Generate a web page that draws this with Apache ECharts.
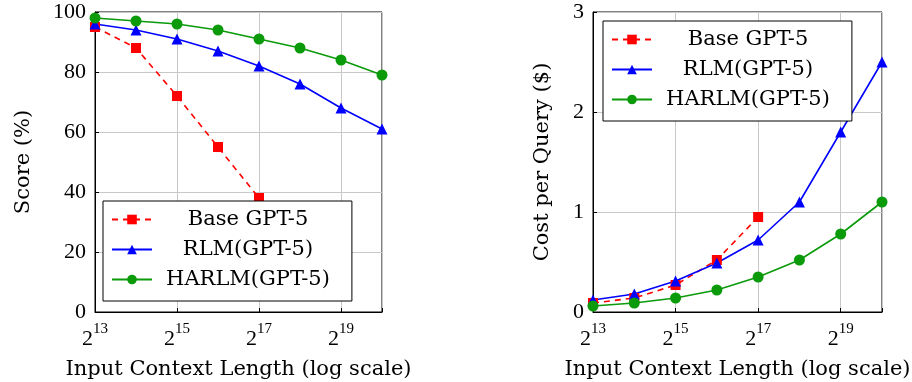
<!DOCTYPE html>
<html><head><meta charset="utf-8">
<script src="https://cdn.jsdelivr.net/npm/echarts@6/dist/echarts.min.js"></script>
<style>html,body{margin:0;padding:0;background:#fff}#c{width:912px;height:382px}</style>
</head><body><div id="c"></div>
<script>
// log2 of input context length
const exps = [13, 14, 15, 16, 17, 18, 19, 20];
const xTickExps = [13, 15, 17, 19];
const seriesNames = ['Base GPT-5', 'RLM(GPT-5)', 'HARLM(GPT-5)'];
// Score (%)
const scoreBase = [95, 88, 72, 55, 38];
const scoreRLM = [96, 94, 91, 87, 82, 76, 68, 61];
const scoreHARLM = [98, 97, 96, 94, 91, 88, 84, 79];
// Cost per query ($)
const costBase = [0.09, 0.14, 0.27, 0.52, 0.95];
const costRLM = [0.12, 0.18, 0.31, 0.49, 0.72, 1.1, 1.8, 2.5];
const costHARLM = [0.06, 0.09, 0.14, 0.22, 0.35, 0.52, 0.78, 1.1];

const FONT = 'DejaVu Serif';
const NUMFONT = 'Liberation Serif';
const RED = '#ff0000', BLUE = '#0000ff', GREEN = '#0a9a0a';
const pairs = arr => arr.map((v, i) => [exps[i], v]);

function xAxis(gi) {
  return {
    type: 'value', gridIndex: gi, min: 13, max: 20, interval: 2,
    name: 'Input Context Length (log scale)', nameLocation: 'middle', nameGap: 47,
    nameTextStyle: {fontFamily: FONT, fontSize: 21, color: '#000'},
    axisLine: {show: true, onZero: false, lineStyle: {color: '#000', width: 1}},
    axisTick: {show: true, inside: true, length: 4, lineStyle: {color: '#000'}},
    splitLine: {show: true, lineStyle: {color: '#c8c8c8', width: 1}},
    axisLabel: {
      margin: 10, color: '#000',
      formatter: v => xTickExps.includes(v) ? '{b|2}{s|' + v + '}' : '',
      rich: {
        b: {fontFamily: NUMFONT, fontSize: 22, color: '#000', verticalAlign: 'bottom'},
        s: {fontFamily: NUMFONT, fontSize: 15, color: '#000', padding: [0, 0, 13, 0], verticalAlign: 'bottom'}
      }
    }
  };
}
function yAxis(gi, max, interval, name, gap) {
  return {
    type: 'value', gridIndex: gi, min: 0, max: max, interval: interval,
    name: name, nameLocation: 'middle', nameGap: gap,
    nameTextStyle: {fontFamily: FONT, fontSize: 21, color: '#000'},
    axisLine: {show: true, lineStyle: {color: '#000', width: 1}},
    axisTick: {show: true, inside: true, length: 4, lineStyle: {color: '#000'}},
    splitLine: {show: true, lineStyle: {color: '#c8c8c8', width: 1}},
    axisLabel: {fontFamily: NUMFONT, fontSize: 22, color: '#000', margin: 9}
  };
}
function mk(name, data, gi, color, symbol, size, dashed) {
  return {
    name: name, type: 'line', xAxisIndex: gi, yAxisIndex: gi, data: pairs(data),
    symbol: symbol, symbolSize: size, color: color,
    lineStyle: {color: color, width: 1.6, type: dashed ? [6, 5] : 'solid'},
    itemStyle: {color: color}, z: 3, animation: false
  };
}
function legend(gi, left, top) {
  return {
    show: true, orient: 'vertical', left: left, top: top,
    data: seriesNames.map(n => ({name: n})),
    backgroundColor: '#fff', borderColor: '#000', borderWidth: 1,
    padding: [8, 22, 11, 8], itemGap: 9, itemWidth: 40, itemHeight: 12,
    formatter: n => '{a|' + n + '}',
    textStyle: {rich: {a: {fontFamily: FONT, fontSize: 21, color: '#000', width: 182, align: 'center'}}},
    selectedMode: false
  };
}

const chart = echarts.init(document.getElementById('c'), null, {renderer: 'canvas'});
chart.setOption({
  animation: false,
  grid: [
    {left: 95, right: 530, top: 12, bottom: 70, show: true, borderColor: '#000', borderWidth: 1, backgroundColor: 'transparent', containLabel: false, outerBoundsMode: 'none'},
    {left: 593, right: 30, top: 12, bottom: 70, show: true, borderColor: '#000', borderWidth: 1, backgroundColor: 'transparent', containLabel: false, outerBoundsMode: 'none'}
  ],
  xAxis: [xAxis(0), xAxis(1)],
  yAxis: [yAxis(0, 100, 20, 'Score (%)', 61), yAxis(1, 3, 1, 'Cost per Query ($)', 40)],
  legend: [legend(0, 103, 201), legend(1, 603, 21)],
  series: [
    mk(seriesNames[0], scoreBase, 0, RED, 'rect', 10, true),
    mk(seriesNames[1], scoreRLM, 0, BLUE, 'triangle', 11, false),
    mk(seriesNames[2], scoreHARLM, 0, GREEN, 'circle', 11, false),
    mk(seriesNames[0], costBase, 1, RED, 'rect', 10, true),
    mk(seriesNames[1], costRLM, 1, BLUE, 'triangle', 11, false),
    mk(seriesNames[2], costHARLM, 1, GREEN, 'circle', 11, false)
  ]
});
</script></body></html>
